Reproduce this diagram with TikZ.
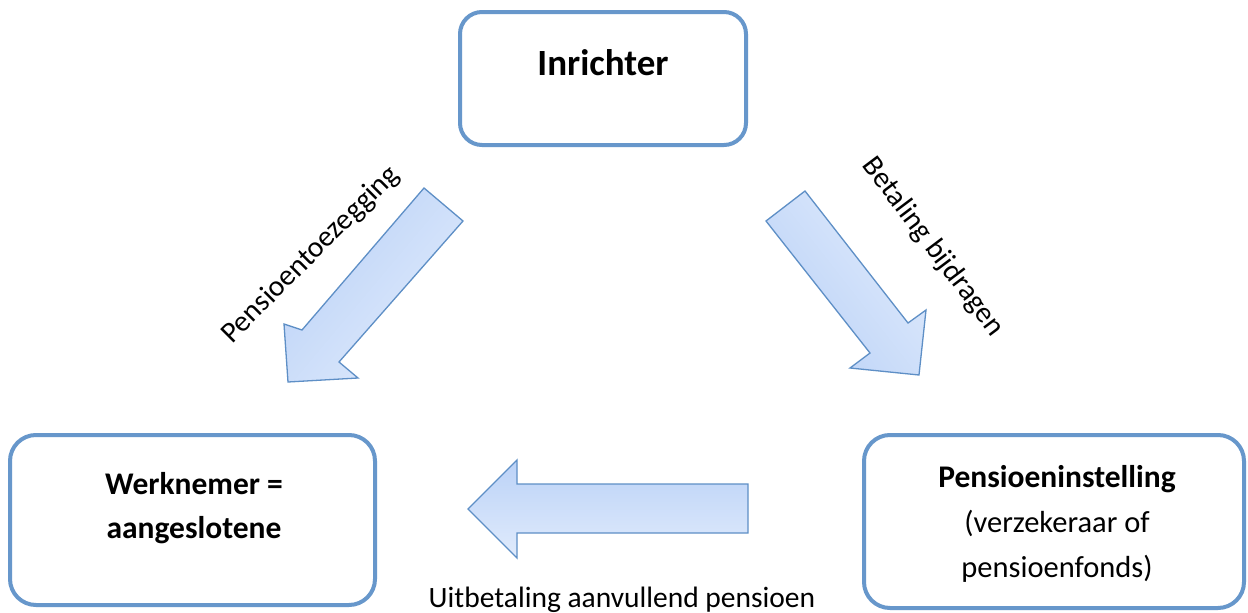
\documentclass[tikz,border=0pt]{standalone}
\usepackage{fontspec}
\setmainfont{Carlito}
\definecolor{boxblue}{HTML}{6797CB}
\definecolor{arrowline}{HTML}{5E8FC6}
\definecolor{arrowtop}{HTML}{BBD2F7}
\definecolor{arrowbot}{HTML}{E0EBFC}
\tikzset{
  box/.style={draw=boxblue, line width=4pt, fill=white, inner sep=0pt},
  blockarrow/.style={draw=arrowline, line width=1.3pt, line join=miter, top color=arrowtop, bottom color=arrowbot},
  bigtxt/.style={font=\fontsize{37}{44}\selectfont\bfseries, inner sep=0pt, anchor=base},
  boldtxt/.style={font=\fontsize{31.5}{44}\selectfont\bfseries, inner sep=0pt, anchor=base},
  regtxt/.style={font=\fontsize{30.5}{44}\selectfont, inner sep=0pt, anchor=base},
  lbltxt/.style={font=\fontsize{29.5}{36}\selectfont, inner sep=0pt}
}
\begin{document}
\begin{tikzpicture}[x=1pt, y=-1pt]
\useasboundingbox (0,0) rectangle (1248,613);
\fill[white] (0,0) rectangle (1248,613);

% boxes
\node[box, rounded corners=22pt, minimum width=286pt, minimum height=133pt] (inr) at (603,78.5) {};
\node[box, rounded corners=26pt, minimum width=365pt, minimum height=170pt] (wn) at (192.5,520) {};
\node[box, rounded corners=26pt, minimum width=380pt, minimum height=173pt] (pi) at (1054,521.5) {};

% box texts
\node[bigtxt] (tinr) at (603,75) {Inrichter};
\node[boldtxt] (twn1) at (194,494) {Werknemer =};
\node[boldtxt] (twn2) at (194,538) {aangeslotene};
\node[boldtxt] (tpi1) at (1057,487) {Pensioeninstelling};
\node[regtxt] (tpi2) at (1057,532) {(verzekeraar of};
\node[regtxt] (tpi3) at (1057,577) {pensioenfonds)};

% block arrows
\draw[blockarrow, shading angle=50]
  (424,188) -- (463,221) -- (339,362) -- (358,378) -- (288,382) -- (284,324) -- (302,330) -- cycle;
\draw[blockarrow, shading angle=128]
  (805,191) -- (766,221) -- (870,353) -- (850,368) -- (919,375) -- (926,310) -- (908,323) -- cycle;
\draw[blockarrow]
  (468,509) -- (517,460) -- (517,484) -- (748,484) -- (748,533) -- (517,533) -- (517,558) -- cycle;

% arrow labels
\node[lbltxt, rotate=45] (l1) at (311,255) {Pensioentoezegging};
\node[lbltxt, rotate=-53] (l2) at (933,247) {Betaling bijdragen};
\node[lbltxt, anchor=base] (l3) at (622,607) {Uitbetaling aanvullend pensioen};
\end{tikzpicture}
\end{document}
